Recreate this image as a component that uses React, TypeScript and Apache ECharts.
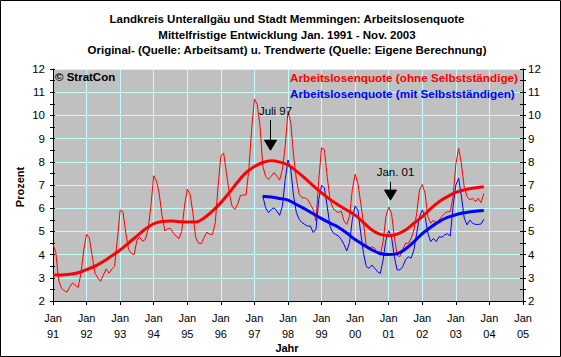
import React, { useEffect, useRef } from "react";
import * as echarts from "echarts";

// Months counted from Jan 1991 (0) to Jan 2005 (168)
const yearLabels = ["91", "92", "93", "94", "95", "96", "97", "98", "99", "00", "01", "02", "03", "04", "05"];

// Original monthly values, ohne Selbstständige, Jan 1991 - Nov 2003
const redStart = 0;
const redRaw = [
  4.44, 4.1, 2.9, 2.55, 2.45, 2.38, 2.62, 2.78, 2.68, 2.58, 3.2, 4.2,
  4.88, 4.72, 3.95, 3.2, 3.0, 2.85, 3.12, 3.38, 3.2, 3.38, 3.5, 4.65,
  5.92, 5.85, 4.95, 4.22, 4.05, 4.0, 4.62, 4.75, 4.58, 4.65, 5.1, 6.1,
  7.4, 7.17, 6.6, 5.66, 5.02, 5.12, 5.12, 4.92, 4.8, 4.69, 5.0, 6.09,
  6.82, 6.6, 5.8, 4.73, 4.5, 4.47, 4.73, 4.97, 4.87, 4.87, 5.37, 6.95,
  8.25, 8.38, 7.53, 6.67, 6.09, 5.95, 6.17, 6.55, 6.57, 6.57, 7.67, 9.4,
  10.71, 10.47, 9.54, 7.81, 7.38, 7.24, 7.38, 7.53, 7.38, 7.21, 7.67, 8.68,
  10.18, 9.68, 8.25, 7.24, 6.6, 6.45, 6.45, 6.38, 6.17, 5.95, 5.45, 7.24,
  8.6, 8.53, 7.38, 6.38, 6.02, 5.88, 5.81, 5.88, 5.45, 5.3, 5.66, 6.81,
  7.46, 7.07, 6.21, 5.35, 4.34, 4.27, 4.34, 4.27, 4.05, 3.98, 4.56, 5.64,
  6.05, 5.78, 4.77, 3.98, 3.91, 4.2, 4.49, 4.49, 4.7, 5.06, 5.78, 6.78,
  7.02, 6.64, 5.64, 5.35, 5.49, 5.35, 5.49, 5.64, 5.78, 5.85, 5.85, 6.5,
  7.9, 8.58, 7.9, 6.9, 6.5, 6.36, 6.43, 6.28, 6.43, 6.24, 6.64,
];

// Original monthly values, mit Selbstständigen, Apr 1997 - Nov 2003
const blueStart = 75;
const blueRaw = [
  6.52, 6.02, 5.81, 5.95, 6.02, 5.88, 5.69, 6.09, 7.24,
  8.08, 7.67, 6.52, 5.81, 5.52, 5.38, 5.3, 5.23, 5.23, 4.95, 5.1, 6.38,
  6.98, 6.88, 6.09, 5.23, 4.95, 4.87, 4.8, 4.66, 4.44, 4.16, 4.52, 5.52,
  6.1, 5.92, 4.92, 4.05, 3.48, 3.41, 3.55, 3.41, 3.26, 3.19, 3.77, 4.63,
  5.03, 4.77, 3.91, 3.34, 3.34, 3.48, 3.77, 3.91, 3.84, 4.2, 4.92, 5.64,
  5.92, 5.64, 4.92, 4.56, 4.7, 4.56, 4.77, 4.75, 4.85, 4.9, 4.8, 6.07,
  7.0, 7.29, 6.5, 5.57, 5.28, 5.49, 5.35, 5.3, 5.3, 5.32, 5.52,
];

// Trend values (read quarterly)
const redTrendMonths = [0, 3, 6, 9, 12, 15, 18, 21, 24, 27, 30, 33, 36, 39, 42, 45, 48, 51, 54, 57, 60, 63, 66, 69, 72, 75, 78, 81, 84, 87, 90, 93, 96, 99, 102, 105, 108, 111, 114, 117, 120, 123, 126, 129, 132, 135, 138, 141, 144, 147, 150, 154];
const redTrendValues = [3.12, 3.12, 3.15, 3.22, 3.35, 3.5, 3.7, 3.95, 4.2, 4.5, 4.8, 5.1, 5.33, 5.43, 5.45, 5.42, 5.4, 5.4, 5.58, 5.88, 6.24, 6.67, 7.13, 7.53, 7.8, 7.97, 8.05, 7.99, 7.86, 7.6, 7.3, 6.97, 6.66, 6.38, 6.14, 5.92, 5.7, 5.38, 5.06, 4.87, 4.81, 4.88, 5.06, 5.35, 5.64, 5.98, 6.28, 6.5, 6.68, 6.79, 6.86, 6.92];

const blueTrendMonths = [75, 78, 81, 84, 87, 90, 93, 96, 99, 102, 105, 108, 111, 114, 117, 120, 123, 126, 129, 132, 135, 138, 141, 144, 147, 150, 154];
const blueTrendValues = [6.52, 6.48, 6.42, 6.35, 6.16, 5.97, 5.76, 5.55, 5.36, 5.18, 4.93, 4.65, 4.42, 4.2, 4.05, 4.0, 4.04, 4.24, 4.55, 4.9, 5.18, 5.42, 5.6, 5.72, 5.8, 5.86, 5.9];

const titleLines = [
  "Landkreis Unterallgäu und Stadt Memmingen: Arbeitslosenquote",
  "Mittelfristige Entwicklung Jan. 1991 - Nov. 2003",
  "Original- (Quelle: Arbeitsamt) u. Trendwerte (Quelle: Eigene Berechnung)",
];
const seriesNames = ["Arbeitslosenquote (ohne Selbstständige)", "Arbeitslosenquote (mit Selbstständigen)"];

const annotations = [
  { label: "Juli 97", month: 77.5, textValue: 10.2, lineTop: 9.8, tip: 8.5 },
  { label: "Jan. 01", month: 120.4, textValue: 7.56, lineTop: 7.14, tip: 6.35 },
];

const FONT = "'Liberation Sans', Arial, sans-serif";
const RED = "#FF0000";
const BLUE = "#0000FF";
const GRIDC = "#C0FFFF";

const toPairs = (start: number, vals: number[]) => vals.map((v, i) => [start + i, v]);
const zipPairs = (ms: number[], vs: number[]) => ms.map((m, i) => [m, vs[i]]);

export default function App() {
  const ref = useRef<HTMLDivElement>(null);
  useEffect(() => {
    if (!ref.current) return;
    const chart = echarts.init(ref.current, undefined, { renderer: "svg" });
    const yBase = {
      type: "value",
      min: 2,
      max: 12,
      interval: 1,
    };
    const option: any = {
      animation: false,
      backgroundColor: "#FFFFFF",
      grid: { left: 53, right: 38, top: 69, bottom: 56, show: true, backgroundColor: "#C0C0C0", borderWidth: 0 },
      xAxis: {
        type: "value",
        min: 0,
        max: 168,
        interval: 12,
        axisLine: { show: true, lineStyle: { color: "#000", width: 1 } },
        axisTick: { show: true, length: 4, lineStyle: { color: "#000" } },
        axisLabel: {
          formatter: (v: number) => `Jan\n${yearLabels[Math.round(v / 12)]}`,
          fontSize: 11,
          lineHeight: 16,
          margin: 9,
          color: "#000",
          fontFamily: FONT,
        },
        splitLine: { show: true, lineStyle: { color: GRIDC, width: 1 } },
      },
      yAxis: [
        {
          ...yBase,
          position: "left",
          axisLine: { show: true, lineStyle: { color: "#000" } },
          axisTick: { show: true, length: 3, lineStyle: { color: "#000" } },
          minorTick: { show: true, splitNumber: 2, length: 3, lineStyle: { color: "#000" } },
          axisLabel: { fontSize: 11.5, margin: 8, color: "#000", fontFamily: FONT },
          splitLine: { show: true, lineStyle: { color: GRIDC, width: 1 } },
        },
        {
          ...yBase,
          position: "right",
          axisLine: { show: true, lineStyle: { color: "#000" } },
          axisTick: { show: true, length: 3, lineStyle: { color: "#000" } },
          minorTick: { show: true, splitNumber: 2, length: 3, lineStyle: { color: "#000" } },
          axisLabel: { fontSize: 11.5, margin: 5, color: "#000", fontFamily: FONT },
          splitLine: { show: false },
        },
        {
          ...yBase,
          position: "left",
          axisLine: { show: false },
          axisTick: { show: true, inside: true, length: 2, lineStyle: { color: "#000" } },
          minorTick: { show: true, splitNumber: 2, length: 2, lineStyle: { color: "#000" } },
          axisLabel: { show: false },
          splitLine: { show: false },
        },
        {
          ...yBase,
          position: "right",
          axisLine: { show: false },
          axisTick: { show: true, inside: true, length: 3, lineStyle: { color: "#000" } },
          minorTick: { show: true, splitNumber: 2, length: 3, lineStyle: { color: "#000" } },
          axisLabel: { show: false },
          splitLine: { show: false },
        },
      ],
      series: [
        {
          name: seriesNames[0] + " Original",
          type: "line",
          data: toPairs(redStart, redRaw),
          showSymbol: false,
          symbol: "none",
          lineStyle: { color: RED, width: 1 },
          z: 2,
        },
        {
          name: seriesNames[1] + " Original",
          type: "line",
          data: toPairs(blueStart, blueRaw),
          showSymbol: false,
          symbol: "none",
          lineStyle: { color: BLUE, width: 1 },
          z: 3,
        },
        {
          name: seriesNames[0],
          type: "line",
          data: zipPairs(redTrendMonths, redTrendValues),
          smooth: 0.4,
          showSymbol: false,
          symbol: "none",
          lineStyle: { color: RED, width: 3 },
          z: 4,
        },
        {
          name: seriesNames[1],
          type: "line",
          data: zipPairs(blueTrendMonths, blueTrendValues),
          smooth: 0.4,
          showSymbol: false,
          symbol: "none",
          lineStyle: { color: BLUE, width: 3 },
          z: 5,
        },
      ],
    };
    chart.setOption(option);

    const bold = (size: number) => `bold ${size}px ${FONT}`;
    const graphics: any[] = [
      {
        type: "rect",
        shape: { x: 0.5, y: 0.5, width: 560, height: 356 },
        style: { fill: "none", stroke: "#000", lineWidth: 1 },
        silent: true,
      },
      ...titleLines.map((t, i) => ({
        type: "text",
        x: 287,
        y: 19 + i * 15.5,
        style: { text: t, font: bold(11.5), fill: "#000", textAlign: "center", textVerticalAlign: "middle" },
      })),
      {
        type: "text",
        x: 290,
        y: 77,
        z: 100,
        style: { text: seriesNames[0], font: bold(11.7), fill: RED, textAlign: "left", textVerticalAlign: "middle" },
      },
      {
        type: "text",
        x: 290,
        y: 93,
        z: 100,
        style: { text: seriesNames[1], font: bold(11.7), fill: BLUE, textAlign: "left", textVerticalAlign: "middle" },
      },
      {
        type: "text",
        x: 55,
        y: 77,
        z: 100,
        style: { text: "© StratCon", font: bold(11.5), fill: "#000", textAlign: "left", textVerticalAlign: "middle" },
      },
      {
        type: "text",
        x: 287,
        y: 348,
        style: { text: "Jahr", font: bold(11), fill: "#000", textAlign: "center", textVerticalAlign: "middle" },
      },
      {
        type: "text",
        x: 20,
        y: 187,
        rotation: Math.PI / 2,
        style: { text: "Prozent", font: bold(11), fill: "#000", textAlign: "center", textVerticalAlign: "middle" },
      },
    ];

    annotations.forEach((a) => {
      const pText = chart.convertToPixel({ xAxisIndex: 0, yAxisIndex: 0 }, [a.month, a.textValue]) as number[];
      const pTop = chart.convertToPixel({ xAxisIndex: 0, yAxisIndex: 0 }, [a.month, a.lineTop]) as number[];
      const pTip = chart.convertToPixel({ xAxisIndex: 0, yAxisIndex: 0 }, [a.month, a.tip]) as number[];
      const x = Math.round(pTop[0]) + 0.5;
      const headH = 10;
      const headW = 6;
      graphics.push(
        {
          type: "text",
          x: x + 5,
          y: pText[1],
          z: 100,
          style: { text: a.label, font: `11.5px ${FONT}`, fill: "#000", textAlign: "center", textVerticalAlign: "middle" },
        },
        {
          type: "line",
          z: 100,
          shape: { x1: x, y1: pTop[1], x2: x, y2: pTip[1] - headH },
          style: { stroke: "#000", lineWidth: 1 },
        },
        {
          type: "polygon",
          z: 100,
          shape: {
            points: [
              [x - headW, pTip[1] - headH],
              [x + headW, pTip[1] - headH],
              [x, pTip[1]],
            ],
          },
          style: { fill: "#000", stroke: "#000" },
        }
      );
    });

    chart.setOption({ graphic: graphics });
    return () => chart.dispose();
  }, []);
  return <div ref={ref} style={{ position: "absolute", left: 0, top: 0, width: 561, height: 357 }} />;
}
